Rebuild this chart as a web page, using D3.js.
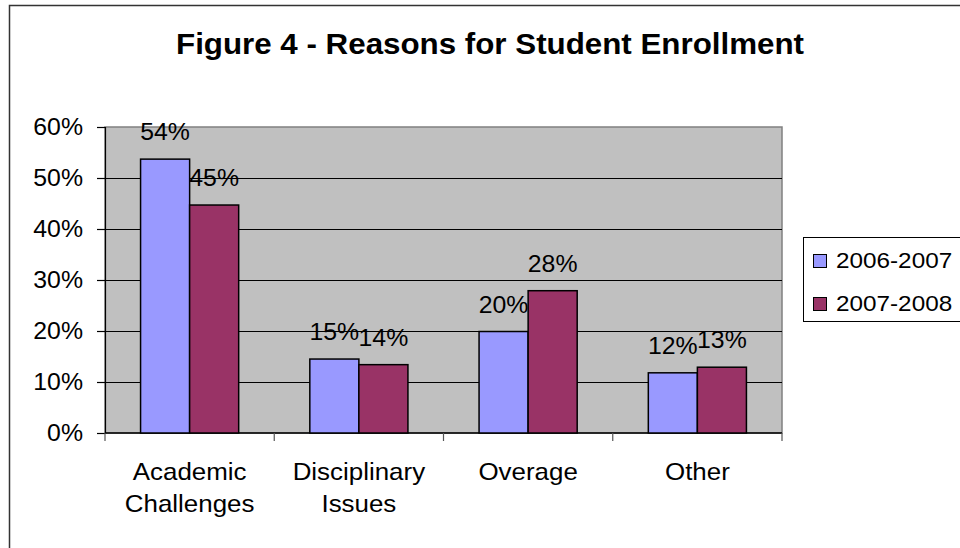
<!DOCTYPE html>
<html>
<head>
<meta charset="utf-8">
<script src="https://cdn.jsdelivr.net/npm/d3@7"></script>
<style>
  body { margin: 0; background: #fff; }
  svg { display: block; font-family: Arial, "Liberation Sans", sans-serif; }
</style>
</head>
<body>
<div id="chart"></div>
<script>
// data
const categories = [["Academic", "Challenges"], ["Disciplinary", "Issues"], ["Overage"], ["Other"]];
const seriesNames = ["2006-2007", "2007-2008"];
const values2006 = [53.7, 14.5, 19.9, 11.8];
const values2007 = [44.7, 13.4, 27.9, 12.9];
const labels2006 = ["54%", "15%", "20%", "12%"];
const labels2007 = ["45%", "14%", "28%", "13%"];
const yTicks = [0, 10, 20, 30, 40, 50, 60];
const colors = ["#9999ff", "#993366"];

const width = 960, height = 548;
const plot = { left: 105, right: 782, top: 127, bottom: 433 };
const SX = 1.08; // text in the original is slightly stretched sideways

const svg = d3.select("#chart").append("svg")
  .attr("width", width)
  .attr("height", height);

// outer chart border
svg.append("rect")
  .attr("x", 9.5).attr("y", 5.5)
  .attr("width", 1000).attr("height", 600)
  .attr("fill", "#fff")
  .attr("stroke", "#333")
  .attr("stroke-width", 1.5);

function addText(g, x, y, str, size, opts = {}) {
  return g.append("text")
    .attr("transform", `translate(${x},${y}) scale(${SX},1)`)
    .attr("text-anchor", opts.anchor || "middle")
    .style("font-size", size + "px")
    .style("font-weight", opts.bold ? "bold" : "normal")
    .attr("fill", "#000")
    .text(str);
}

// title
addText(svg, 490, 54, "Figure 4 - Reasons for Student Enrollment", 29, { bold: true });

// scales
const x0 = d3.scaleBand()
  .domain(d3.range(categories.length))
  .range([plot.left, plot.right])
  .paddingInner(0)
  .paddingOuter(0);

const x1 = d3.scaleBand()
  .domain([0, 1])
  .range([0, x0.bandwidth()])
  .paddingOuter(0.725)
  .paddingInner(0);

const y = d3.scaleLinear()
  .domain([0, 60])
  .range([plot.bottom, plot.top]);

// plot background
svg.append("rect")
  .attr("x", plot.left).attr("y", plot.top)
  .attr("width", plot.right - plot.left)
  .attr("height", plot.bottom - plot.top)
  .attr("fill", "#c0c0c0")
  .attr("stroke", "#808080")
  .attr("stroke-width", 1.5);

// gridlines
svg.append("g")
  .selectAll("line")
  .data(yTicks.filter(d => d > 0 && d < 60))
  .join("line")
  .attr("x1", plot.left).attr("x2", plot.right)
  .attr("y1", d => Math.round(y(d)) + 0.5)
  .attr("y2", d => Math.round(y(d)) + 0.5)
  .attr("stroke", "#000")
  .attr("stroke-width", 1);

// y axis
const yAxis = svg.append("g")
  .attr("transform", `translate(${plot.left},0)`)
  .call(d3.axisLeft(y).tickValues(yTicks).tickSize(8).tickFormat(""));
yAxis.selectAll("line").attr("stroke", "#000").attr("stroke-width", 1.2);
yAxis.select(".domain").attr("stroke", "#000").attr("stroke-width", 1.2);
yTicks.forEach(t => addText(svg, 83, y(t) + 8, t + "%", 23, { anchor: "end" }));

// x axis
const xTicks = d3.range(categories.length + 1).map(i => plot.left + i * x0.bandwidth());
const xAxis = svg.append("g");
xAxis.append("line")
  .attr("x1", plot.left).attr("x2", plot.right)
  .attr("y1", plot.bottom).attr("y2", plot.bottom)
  .attr("stroke", "#000").attr("stroke-width", 1.5);
xAxis.selectAll(".tick")
  .data(xTicks)
  .join("line")
  .attr("x1", d => d).attr("x2", d => d)
  .attr("y1", plot.bottom).attr("y2", plot.bottom + 8)
  .attr("stroke", "#555").attr("stroke-width", 1.2);

categories.forEach((lines, i) => {
  const cx = x0(i) + x0.bandwidth() / 2;
  lines.forEach((ln, j) => addText(svg, cx, 480 + j * 32, ln, 24));
});

// bars
const series = [values2006, values2007];
const seriesLabels = [labels2006, labels2007];
series.forEach((vals, s) => {
  const g = svg.append("g");
  g.selectAll("rect")
    .data(vals)
    .join("rect")
    .attr("x", (d, i) => x0(i) + x1(s))
    .attr("y", d => y(d))
    .attr("width", x1.bandwidth())
    .attr("height", d => y(0) - y(d))
    .attr("fill", colors[s])
    .attr("stroke", "#000")
    .attr("stroke-width", 1.5);
  vals.forEach((d, i) => {
    addText(svg, x0(i) + x1(s) + x1.bandwidth() / 2, y(d) - 19, seriesLabels[s][i], 23);
  });
});

// legend
const legend = svg.append("g");
legend.append("rect")
  .attr("x", 803.5).attr("y", 237.5)
  .attr("width", 200).attr("height", 84)
  .attr("fill", "#fff")
  .attr("stroke", "#000")
  .attr("stroke-width", 1);
seriesNames.forEach((name, s) => {
  const ly = 254 + s * 43;
  legend.append("rect")
    .attr("x", 813.5).attr("y", ly + 0.5)
    .attr("width", 13).attr("height", 13)
    .attr("fill", colors[s])
    .attr("stroke", "#000")
    .attr("stroke-width", 1);
  addText(legend, 836, ly + 14, name, 22.5, { anchor: "start" });
});
</script>
</body>
</html>
